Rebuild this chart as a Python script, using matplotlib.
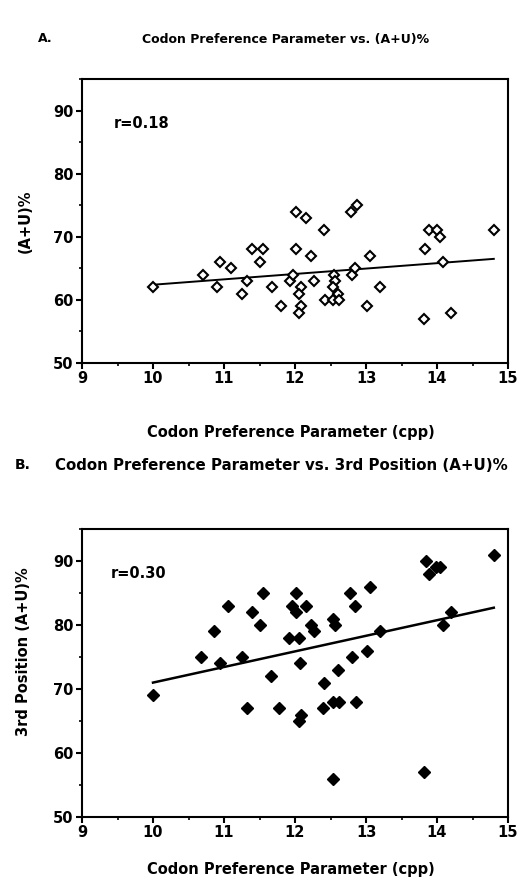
import matplotlib
matplotlib.use("Agg")
import matplotlib.pyplot as plt
from matplotlib.ticker import MultipleLocator

# Panel A: cpp vs (A+U)%
cpp_a = [10.0, 10.7, 10.9, 10.95, 11.1, 11.25, 11.33, 11.4, 11.5, 11.55,
         11.68, 11.8, 11.93, 11.97, 12.02, 12.02, 12.08, 12.05, 12.09, 12.06,
         12.16, 12.23, 12.27, 12.41, 12.42, 12.55, 12.56, 12.54, 12.6, 12.54,
         12.62, 12.79, 12.87, 12.8, 12.84, 13.05, 13.02, 13.2, 13.83, 13.89,
         14.0, 14.04, 14.09, 13.82, 14.2, 14.8]
au_a = [62, 64, 62, 66, 65, 61, 63, 68, 66, 68,
        62, 59, 63, 64, 74, 68, 62, 61, 59, 58,
        73, 67, 63, 71, 60, 64, 63, 62, 61, 60,
        60, 74, 75, 64, 65, 67, 59, 62, 68, 71,
        71, 70, 66, 57, 58, 71]
fit_a_x = [10.0, 14.8]
fit_a_y = [62.4, 66.5]

# Panel B: cpp vs 3rd position (A+U)%
cpp_b = [10.0, 10.67, 10.86, 10.94, 11.06, 11.25, 11.32, 11.39, 11.51, 11.55,
         11.66, 11.78, 11.92, 12.05, 12.01, 11.96, 12.02, 12.15, 12.07, 12.09,
         12.06, 12.23, 12.27, 12.54, 12.57, 12.41, 12.6, 12.4, 12.54, 12.62,
         12.86, 12.54, 13.82, 12.78, 12.85, 12.8, 13.05, 13.02, 13.2, 13.84,
         13.89, 13.99, 14.04, 14.2, 14.08, 14.8]
au3_b = [69, 75, 79, 74, 83, 75, 67, 82, 80, 85,
         72, 67, 78, 78, 85, 83, 82, 83, 74, 66,
         65, 80, 79, 81, 80, 71, 73, 67, 68, 68,
         68, 56, 57, 85, 83, 75, 86, 76, 79, 90,
         88, 89, 89, 82, 80, 91]
fit_b_x = [10.0, 14.8]
fit_b_y = [71.0, 82.7]

plt.rcParams["font.family"] = "DejaVu Sans"
plt.rcParams["font.weight"] = "bold"

fig = plt.figure(figsize=(5.31, 8.88), dpi=100)
ax_a = fig.add_axes([82 / 531, 1 - 363 / 888, 426 / 531, 284 / 888])
ax_b = fig.add_axes([82 / 531, 1 - 817 / 888, 426 / 531, 288 / 888])


def style(ax):
    ax.set_xlim(9, 15)
    ax.set_ylim(50, 95)
    ax.xaxis.set_major_locator(MultipleLocator(1))
    ax.xaxis.set_minor_locator(MultipleLocator(0.5))
    ax.yaxis.set_major_locator(MultipleLocator(10))
    ax.yaxis.set_minor_locator(MultipleLocator(5))
    ax.tick_params(which="major", direction="out", length=4, width=1.5,
                   labelsize=10.5, pad=2)
    ax.tick_params(which="minor", direction="out", length=2, width=1.2)
    for s in ax.spines.values():
        s.set_linewidth(1.5)
    for lab in ax.get_xticklabels() + ax.get_yticklabels():
        lab.set_fontweight("bold")


ax_a.plot(fit_a_x, fit_a_y, color="black", lw=1.4)
ax_a.plot(cpp_a, au_a, "D", ms=5, mfc="white", mec="black", mew=1.5)
style(ax_a)
ax_a.text(9.45, 88, "r=0.18", fontsize=10.5, fontweight="bold", va="center")
ax_a.set_xlabel("Codon Preference Parameter (cpp)", fontsize=10.5,
                fontweight="bold", va="center")
ax_a.xaxis.set_label_coords(0.49, -0.243)
ax_a.set_ylabel("(A+U)%", fontsize=10.5, fontweight="bold", va="center")
ax_a.yaxis.set_label_coords(-0.134, 0.5)

ax_b.plot(fit_b_x, fit_b_y, color="black", lw=1.8)
ax_b.plot(cpp_b, au3_b, "D", ms=6, color="black")
style(ax_b)
ax_b.text(9.4, 88, "r=0.30", fontsize=10.5, fontweight="bold", va="center")
ax_b.set_xlabel("Codon Preference Parameter (cpp)", fontsize=10.5,
                fontweight="bold", va="center")
ax_b.xaxis.set_label_coords(0.49, -0.184)
ax_b.set_ylabel("3rd Position (A+U)%", fontsize=10.5, fontweight="bold",
                va="center")
ax_b.yaxis.set_label_coords(-0.138, 0.573)

fig.text(38 / 531, 1 - 38 / 888, "A.", fontsize=9, fontweight="bold",
         va="center")
fig.text(286 / 531, 1 - 40 / 888, "Codon Preference Parameter vs. (A+U)%",
         fontsize=9, fontweight="bold", ha="center", va="center")
fig.text(15 / 531, 1 - 465 / 888, "B.", fontsize=10, fontweight="bold",
         va="center")
fig.text(281 / 531, 1 - 465 / 888,
         "Codon Preference Parameter vs. 3rd Position (A+U)%",
         fontsize=10.8, fontweight="bold", ha="center", va="center")

fig.savefig("out.png", dpi=100)
